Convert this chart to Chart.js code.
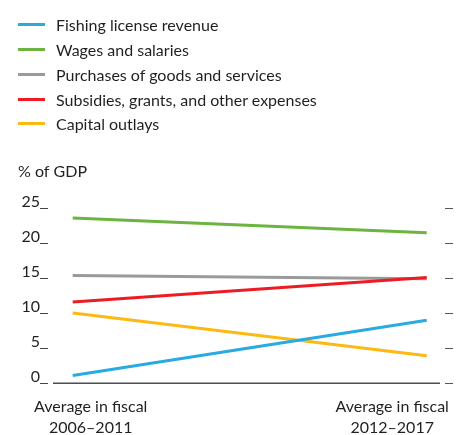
<!DOCTYPE html>
<html>
<head>
<meta charset="utf-8">
<script src="https://cdn.jsdelivr.net/npm/chart.js@4/dist/chart.umd.min.js"></script>
<style>
  html, body { margin: 0; padding: 0; background: #ffffff; }
  #wrap { position: relative; width: 457px; height: 435px; overflow: hidden; }
  #chart { position: absolute; left: 0; top: 0; }
  #legend { position: absolute; left: 18px; top: 12.6px; font-family: Lato, "Noto Sans", sans-serif; font-size: 16px; color: #231f20; }
  #legend .row { display: flex; align-items: center; height: 24.75px; white-space: nowrap; }
  #legend .swatch { display: inline-block; width: 27px; height: 3px; margin-right: 11px; }
</style>
</head>
<body>
<div id="wrap">
  <canvas id="chart" width="457" height="435"></canvas>
  <div id="legend"></div>
</div>
<script>
// ---- data ----
const categories = [
  ['Average in fiscal', '2006–2011'],
  ['Average in fiscal', '2012–2017']
];
const seriesNames = [
  'Fishing license revenue',
  'Wages and salaries',
  'Purchases of goods and services',
  'Subsidies, grants, and other expenses',
  'Capital outlays'
];
const fishingLicenseRevenue = [1.1, 9.0];
const wagesAndSalaries = [23.6, 21.5];
const purchasesOfGoodsAndServices = [15.4, 14.95];
const subsidiesGrantsOther = [11.6, 15.1];
const capitalOutlays = [10.05, 3.95];
const yTickValues = [0, 5, 10, 15, 20, 25];
const yAxisTitle = '% of GDP';

const seriesValues = [fishingLicenseRevenue, wagesAndSalaries, purchasesOfGoodsAndServices, subsidiesGrantsOther, capitalOutlays];
const seriesColors = ['#29abe2', '#6cb33f', '#9a9a9a', '#ed1c24', '#fdb913'];

const FONT = 'Lato, "Noto Sans", sans-serif';
const TEXT = '#231f20';

const datasets = seriesNames.map((name, k) => ({
  label: name,
  data: seriesValues[k].map((v, i) => ({ x: i, y: v })),
  borderColor: seriesColors[k],
  backgroundColor: seriesColors[k],
  borderWidth: 3,
  pointRadius: 0,
  pointHoverRadius: 0,
  tension: 0,
  fill: false,
  order: k === 3 ? -1 : k
}));

// baseline and category labels under the plot
const axisExtras = {
  id: 'axisExtras',
  afterDatasetsDraw(chart) {
    const { ctx, chartArea, scales } = chart;
    const y0 = scales.y.getPixelForValue(0);
    ctx.save();
    ctx.strokeStyle = '#4d4d4d';
    ctx.lineWidth = 1.5;
    ctx.beginPath();
    ctx.moveTo(chartArea.left + 5, y0);
    ctx.lineTo(chartArea.right - 5, y0);
    ctx.stroke();
    ctx.fillStyle = TEXT;
    ctx.font = '16px ' + FONT;
    ctx.textAlign = 'center';
    ctx.textBaseline = 'alphabetic';
    const shifts = [18, -34.5];
    categories.forEach((lines, i) => {
      const x = scales.x.getPixelForValue(i) + shifts[i];
      lines.forEach((line, j) => {
        ctx.fillText(line, x, chartArea.bottom + 28.2 + j * 21.5);
      });
    });
    ctx.restore();
  }
};

const chart = new Chart(document.getElementById('chart'), {
  type: 'line',
  data: { labels: categories.map(c => c.join(' ')), datasets },
  options: {
    responsive: false,
    animation: false,
    devicePixelRatio: 1,
    layout: { padding: { left: 18, right: 4, top: 0, bottom: 51.7 } },
    plugins: {
      legend: { display: false },
      tooltip: { enabled: false },
      title: {
        display: true,
        text: yAxisTitle,
        align: 'start',
        color: TEXT,
        font: { family: FONT, size: 16, weight: 'normal', lineHeight: 1.2 },
        padding: { top: 162.4, bottom: 26.7 }
      }
    },
    scales: {
      x: {
        type: 'linear',
        display: false,
        min: -0.0698,
        max: 1.0517
      },
      y: {
        position: 'left',
        min: 0,
        max: 25,
        afterBuildTicks: (s) => { s.ticks = yTickValues.map(v => ({ value: v })); },
        afterFit: (s) => { s.width = 30; },
        border: { display: false },
        grid: { drawOnChartArea: false, drawTicks: true, tickLength: 8, tickColor: '#444', lineWidth: 1 },
        ticks: { padding: 0, labelOffset: -6, color: TEXT, font: { family: FONT, size: 16 } }
      },
      y2: {
        position: 'right',
        min: 0,
        max: 25,
        afterBuildTicks: (s) => { s.ticks = yTickValues.map(v => ({ value: v })); },
        border: { display: false },
        grid: { drawOnChartArea: false, drawTicks: true, tickLength: 8, tickColor: '#555', lineWidth: 1 },
        ticks: { display: false }
      }
    }
  },
  plugins: [axisExtras]
});

// HTML legend built from the chart's datasets
const legendEl = document.getElementById('legend');
chart.data.datasets.forEach(ds => {
  const row = document.createElement('div');
  row.className = 'row';
  const sw = document.createElement('span');
  sw.className = 'swatch';
  sw.style.background = ds.borderColor;
  const tx = document.createElement('span');
  tx.textContent = ds.label;
  row.appendChild(sw);
  row.appendChild(tx);
  legendEl.appendChild(row);
});
</script>
</body>
</html>
